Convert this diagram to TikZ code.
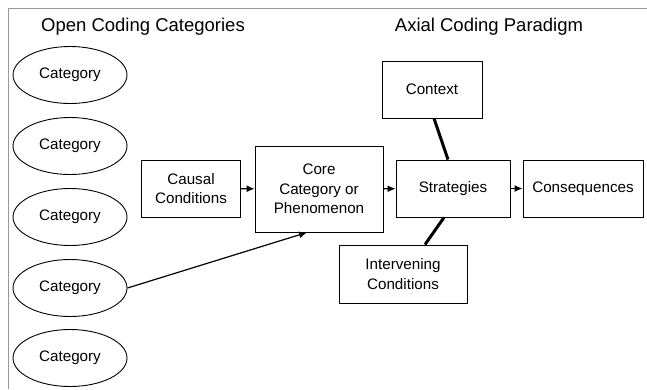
\documentclass[tikz,border=0pt]{standalone}
\usepackage{fontspec}
\setmainfont{Liberation Sans}
\usetikzlibrary{arrows.meta,shapes.geometric}

\begin{document}
\begin{tikzpicture}[x=1pt,y=-1pt,
    every node/.style={font=\fontsize{15.2}{19.5}\selectfont,align=center},
    cat/.style={ellipse,draw,line width=0.9pt,minimum width=114pt,minimum height=57pt,inner sep=0pt},
    box/.style={rectangle,draw,line width=0.9pt,inner sep=0pt},
    title/.style={font=\fontsize{18.5}{22}\selectfont},
    link/.style={line width=3pt},
    flow/.style={-{Latex[length=8pt,width=7pt]},line width=1.2pt}]
  \useasboundingbox (0,0) rectangle (647,389);
  \draw[gray!80,line width=0.8pt] (8,389) -- (8,8) -- (647,8);
  \node[title](open) at (143,27){Open Coding Categories};
  \node[title](axial) at (489,27){Axial Coding Paradigm};
  \foreach \n/\y in {1/75,2/146,3/217,4/288,5/358}
    \node[cat](cat\n) at (70,\y){Category};
  \node[box,minimum width=99pt,minimum height=57pt](causal) at (191,188.5){Causal\\Conditions};
  \node[box,minimum width=128pt,minimum height=86pt](core) at (319,189){Core\\Category or\\Phenomenon};
  \node[box,minimum width=114pt,minimum height=57pt](strat) at (453,188.5){Strategies};
  \node[box,minimum width=120pt,minimum height=57pt](conseq) at (583,188.5){Consequences};
  \node[box,minimum width=100pt,minimum height=57pt](context) at (432,89.5){Context};
  \node[box,minimum width=128pt,minimum height=58pt](interv) at (403,274){Intervening\\Conditions};
  \draw[flow] (causal) -- (core);
  \draw[flow] (core) -- (strat);
  \draw[flow] (strat) -- (conseq);
  \draw[flow] (cat4.east) -- ([xshift=-12pt]core.south);
  \draw[link] ([xshift=2pt]context.south) -- ([xshift=-5pt]strat.north);
  \draw[link] ([xshift=22pt]interv.north) -- ([xshift=-9pt]strat.south);
\end{tikzpicture}
\end{document}
